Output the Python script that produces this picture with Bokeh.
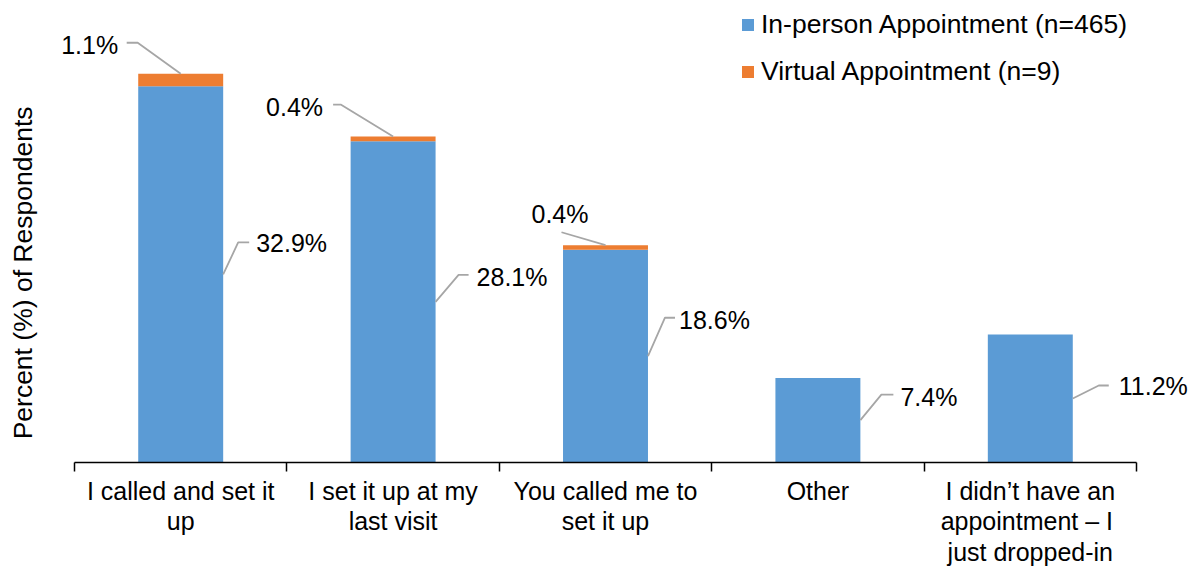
import math
from bokeh.plotting import figure
from bokeh.models import (ColumnDataSource, FixedTicker, Legend, LegendItem, Label, Range1d)
from bokeh.embed import file_html
from bokeh.resources import INLINE
from bokeh.core.properties import value

# ---------------- data ----------------
categories = [
    "I called and set it\nup",
    "I set it up at my\nlast visit",
    "You called me to\nset it up",
    "Other",
    "I didn\u2019t have an\nappointment  \u2013 I\njust dropped-in",
]
in_person = [32.9, 28.1, 18.6, 7.4, 11.2]
virtual = [1.1, 0.4, 0.4, 0.0, 0.0]
series_names = ["In-person Appointment (n=465)", "Virtual Appointment (n=9)"]
y_title = "Percent (%) of Respondents"

# ---------------- style ----------------
BLUE = "#5B9BD5"
ORANGE = "#ED7D31"
LEADER = "#A6A6A6"
TEXT = "#000000"
FONT = "Liberation Sans"
FS = "25px"
FS_BIG = "26.5px"

W, H = 1190, 569
PAD_L, PAD_R = 74, 54          # space left/right of the category band (px)
CW = 212.4                     # px per category
FB = 463                       # expected frame bottom (px)
Y_MAX = 40.4
BAR_W = 0.4
n = len(categories)
px_x = CW
px_y = FB / Y_MAX

# label leader offsets in screen px (dx right, dy down) relative to anchors
top_leader = [[(-43, -31), (-54, -31)], [(-52, -32), (-60, -32)], [(-44, -13)]]
top_text = [(-62.5, -29, "right"), (-70, -30, "right"), (-45.5, -31.5, "center")]
right_leader = [[(15, -32), (26, -32)], [(23, -27), (33, -27)], [(17, -38.5), (27, -38.5)],
                [(21, -25.6), (33, -25.6)], [(26, -13), (36, -13)]]
right_text = [(33, -31), (41, -25), (31, -36.5), (40, -23.6), (46, -12)]

centers = [i + 0.5 for i in range(n)]
totals = [a + b for a, b in zip(in_person, virtual)]

p = figure(width=W, height=H,
           x_range=Range1d(-PAD_L / CW, n + PAD_R / CW), y_range=Range1d(0, Y_MAX),
           output_backend="svg", toolbar_location=None, y_axis_location=None,
           min_border_left=0, min_border_right=0, min_border_top=0,
           min_border_bottom=H - FB)
p.outline_line_color = None
p.xgrid.visible = False
p.ygrid.visible = False
p.background_fill_color = "white"
p.border_fill_color = "white"

src = ColumnDataSource(dict(x=centers, inp=in_person, tot=totals))
r1 = p.vbar(x="x", bottom=0, top="inp", width=BAR_W, fill_color=BLUE, line_color=None, source=src)
r2 = p.vbar(x="x", bottom="inp", top="tot", width=BAR_W, fill_color=ORANGE, line_color=None, source=src)

# x axis: ticks at category boundaries (minor), labels at centers (major)
ax = p.xaxis[0]
ax.bounds = (0, n)
ax.ticker = FixedTicker(ticks=centers, minor_ticks=list(range(n + 1)))
ax.major_label_overrides = {c: lab for c, lab in zip(centers, categories)}
ax.major_tick_out = 0
ax.major_tick_in = 0
ax.minor_tick_out = 9
ax.minor_tick_in = 0
ax.minor_tick_line_color = "#000000"
ax.minor_tick_line_width = 1.5
ax.axis_line_color = "#000000"
ax.axis_line_width = 1.5
ax.major_label_text_font = FONT
ax.major_label_text_font_size = FS
ax.major_label_text_color = TEXT
ax.major_label_standoff = 5
ax.major_label_text_line_height = 1.1

# data labels with leader lines
xs, ys = [], []
lx, ly, lt, la = [], [], [], []
for i in range(n):
    if virtual[i] > 0:
        ax0, ay0 = centers[i], totals[i]
        pts = [(0, 0)] + top_leader[i]
        xs.append([ax0 + dx / px_x for dx, dy in pts])
        ys.append([ay0 - dy / px_y for dx, dy in pts])
        dx, dy, al = top_text[i]
        lx.append(ax0 + dx / px_x); ly.append(ay0 - dy / px_y)
        lt.append(f"{virtual[i]:.1f}%"); la.append(al)
    ax0, ay0 = centers[i] + BAR_W / 2, in_person[i] / 2
    pts = [(0, 0)] + right_leader[i]
    xs.append([ax0 + dx / px_x for dx, dy in pts])
    ys.append([ay0 - dy / px_y for dx, dy in pts])
    dx, dy = right_text[i]
    lx.append(ax0 + dx / px_x); ly.append(ay0 - dy / px_y)
    lt.append(f"{in_person[i]:.1f}%"); la.append("left")

p.multi_line(xs=xs, ys=ys, line_color=LEADER, line_width=1.8)
p.text(x=lx, y=ly, text=lt, text_align=la, text_baseline="middle",
       text_font=value(FONT), text_font_size=FS, text_color=TEXT)

# y axis title
p.add_layout(Label(x=(22 - PAD_L) / px_x, y=(FB - 273) / px_y, text=y_title,
                   angle=math.pi / 2, text_align="center", text_baseline="middle",
                   text_font=FONT, text_font_size=FS_BIG, text_color=TEXT))

# legend
legend = Legend(items=[LegendItem(label=series_names[0], renderers=[r1]),
                       LegendItem(label=series_names[1], renderers=[r2])],
                location=(740, FB - 87.5), orientation="vertical")
legend.border_line_color = None
legend.background_fill_alpha = 0
legend.padding = 0
legend.margin = 0
legend.glyph_width = 15
legend.glyph_height = 15
legend.label_standoff = 6
legend.label_height = 30
legend.spacing = 16
legend.label_text_font = FONT
legend.label_text_font_size = FS_BIG
legend.label_text_color = TEXT
p.add_layout(legend)

open("out.html", "w").write(file_html(p, INLINE))
